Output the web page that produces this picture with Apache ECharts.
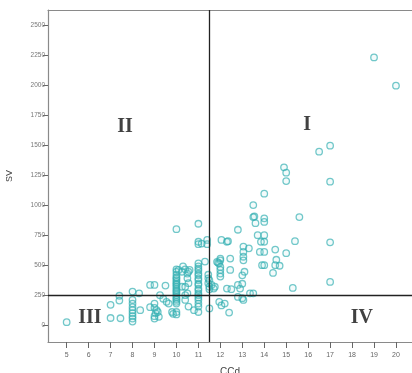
<!DOCTYPE html>
<html><head><meta charset="utf-8">
<script src="https://cdn.jsdelivr.net/npm/echarts@6/dist/echarts.min.js"></script>
<style>html,body{margin:0;padding:0;background:#fff}#c{width:412px;height:373px}</style>
</head><body><div id="c"></div>
<script>
// CCd (x) and SV (y) values, paired by index
const ccd = [
 5,7,7,7.45,7.4,7.4,
 8,8,8,8,8,8,8,8,8,8.3,8.35,
 8.8,9,8.8,9,9,9.1,9.05,9.15,9.2,9,9,9.25,9.4,9.5,9.55,9.65,9.8,9.85,
 10,10,10,10,10,10,10,10,10,10,10,10,10,10,10,10,10,10,10,10,10,10,10,
 10.1,10.25,10.3,10.4,10.25,10.4,10.5,10.4,10.55,10.5,10.5,10.55,10.4,10.55,10.6,10.8,11,
 11,11,11,11,11,11,11,11,11,11,11,11,11,11,11,11,11,11,11,11,11,
 11.15,11.4,11.4,11.3,11.45,11.45,11.45,11.5,11.5,11.5,11.5,11.6,11.7,11.75,
 12,12,11.9,11.95,12,11.85,12,12,12,12.05,12.3,12.35,11.95,12.05,12.2,12.4,12.3,12.5,12.45,12.45,
 12.8,12.9,13,13,12.8,13.05,13,13.35,13.5,13.1,13.05,13.05,13.05,13.05,13.3,12.8,
 13.5,13.55,13.6,14,14,13.7,13.85,14,14,13.8,14,13.9,14,14,13.5,
 14.5,14.55,14.5,14.7,14.4,15,15.3,15.4,15.6,14.9,15,15,16.5,17,17,17,17,19,20
];
const sv = [
 25,60,170,58,245,205,
 280,210,180,150,125,100,75,55,30,265,125,
 335,335,150,180,145,125,100,110,70,75,55,250,220,330,195,180,110,95,
 465,445,420,400,390,375,360,345,335,320,305,290,280,265,250,235,220,210,195,180,110,90,800,
 460,445,490,465,320,250,265,210,155,430,390,350,320,445,460,125,110,
 845,695,675,515,490,470,455,430,415,390,375,345,335,305,290,265,250,230,210,180,155,
 680,710,675,530,420,390,350,375,320,300,140,335,305,320,
 430,540,520,515,485,528,555,460,405,710,695,700,195,165,180,105,305,300,555,460,
 335,305,345,415,235,210,225,265,265,445,655,610,570,540,640,795,
 1000,905,850,890,860,750,695,695,750,610,610,500,500,1095,900,
 630,545,500,495,435,600,310,700,900,1315,1270,1200,1445,1495,1195,690,360,2230,1995
];
const xTicks = [5,6,7,8,9,10,11,12,13,14,15,16,17,18,19,20];
const yTicks = [0,250,500,750,1000,1250,1500,1750,2000,2250,2500];
const cutX = 11.5, cutY = 250;
const quadLabels = ['I','II','III','IV'];
const quadX = [15.95, 7.66, 6.06, 18.45];
const quadY = [1667, 1650, 58, 58];

const points = ccd.map((x, i) => [x, sv[i]]);
const chart = echarts.init(document.getElementById('c'), null, {renderer: 'canvas'});
const axisGray = '#8a8a8a';
chart.setOption({
  animation: false,
  grid: {left: 48, right: 0, top: 10, bottom: 31, containLabel: false, outerBoundsMode: 'none'},
  xAxis: [{
    type: 'value', min: 4.15, max: 20.73, position: 'bottom',
    name: 'CCd', nameLocation: 'middle', nameGap: 25,
    nameTextStyle: {fontFamily: 'Liberation Sans', fontSize: 10, color: '#444'},
    axisLine: {show: true, onZero: false, lineStyle: {color: axisGray, width: 1.2}},
    axisTick: {show: true, length: 6, customValues: xTicks, lineStyle: {color: '#666'}},
    axisLabel: {customValues: xTicks, fontFamily: 'Liberation Sans', fontSize: 7, color: '#666', margin: 10},
    splitLine: {show: false}
  }, {
    type: 'value', min: 4.15, max: 20.73, position: 'top',
    axisLine: {show: true, onZero: false, lineStyle: {color: axisGray, width: 1.2}},
    axisTick: {show: false}, axisLabel: {show: false}, splitLine: {show: false}
  }],
  yAxis: {
    type: 'value', min: -140, max: 2625,
    name: 'SV', nameLocation: 'middle', nameGap: 34, nameRotate: 90,
    nameTextStyle: {fontFamily: 'Liberation Sans', fontSize: 9, color: '#444'},
    axisLine: {show: true, onZero: false, lineStyle: {color: axisGray, width: 1.2}},
    axisTick: {show: true, length: 5, customValues: yTicks, lineStyle: {color: '#666'}},
    axisLabel: {customValues: yTicks, formatter: v => String(v), fontFamily: 'Liberation Sans', fontSize: 6.5, color: '#777', margin: 3},
    splitLine: {show: false}
  },
  series: [{
    type: 'scatter',
    data: points,
    symbol: 'circle',
    symbolSize: 6.5,
    itemStyle: {color: 'rgba(140,210,210,0.12)', borderColor: 'rgba(50,175,178,0.85)', borderWidth: 1.3},
    markLine: {
      silent: true, symbol: ['none', 'none'], label: {show: false},
      lineStyle: {color: '#222', width: 1.3, type: 'solid'},
      data: [{xAxis: cutX}, {yAxis: cutY}]
    },
    z: 3
  }, {
    type: 'scatter',
    data: quadLabels.map((t, i) => ({value: [quadX[i], quadY[i]], name: t})),
    symbolSize: 0,
    silent: true,
    label: {show: true, position: 'inside', formatter: p => p.name,
      fontFamily: 'Liberation Serif', fontSize: 20, fontWeight: 'bold', color: '#111'},
    z: 4
  }]
});
</script></body></html>
